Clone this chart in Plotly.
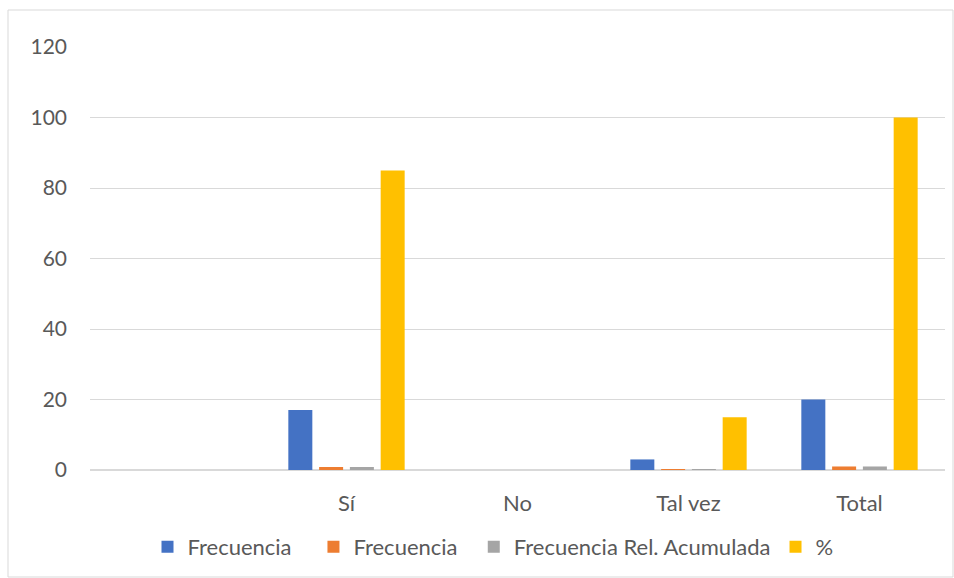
import plotly.graph_objects as go

categories = [" ", "Sí", "No", "Tal vez", "Total"]
frecuencia = [None, 17, 0, 3, 20]
frecuencia_rel = [None, 0.85, 0, 0.15, 1]
frecuencia_rel_acum = [None, 0.85, 0, 0.15, 1]
porcentaje = [None, 85, 0, 15, 100]

PAD = "\u00a0\u00a0"
series = [
    ("Frecuencia" + PAD + "\u00a0", frecuencia, "#4472C4"),
    ("Frecuencia" + PAD, frecuencia_rel, "#ED7D31"),
    ("Frecuencia Rel. Acumulada", frecuencia_rel_acum, "#A5A5A5"),
    ("%", porcentaje, "#FFC000"),
]

FONT = "Lato, 'Open Sans', sans-serif"

fig = go.Figure()
for name, vals, col in series:
    fig.add_trace(go.Bar(x=categories, y=vals, name=name, marker_color=col,
                         marker_line_width=0))

W, H = 954, 578
L, R, T, B = 90, 9, 47, 108
pw, ph = W - L - R, H - T - B

fig.update_layout(
    width=W, height=H,
    margin=dict(l=L, r=R, t=T, b=B),
    paper_bgcolor="white", plot_bgcolor="white",
    barmode="group", bargap=0.28, bargroupgap=0.22,
    font=dict(family=FONT, size=21, color="#595959"),
    showlegend=True,
    legend=dict(orientation="h", x=(493 - L) / pw, xanchor="center",
                y=(470 - 547) / ph, yanchor="middle",
                font=dict(size=22, color="#595959"),
                itemwidth=30, traceorder="normal"),
    xaxis=dict(type="category", showgrid=False, ticks="", showline=True,
               linecolor="#d9d9d9", linewidth=1, ticklabelstandoff=14,
               tickfont=dict(size=22, color="#595959")),
    yaxis=dict(range=[0, 120], dtick=20, showgrid=True, gridcolor="#d9d9d9",
               gridwidth=1, zeroline=True, zerolinecolor="#d9d9d9", ticks="",
               showline=False, ticklabelstandoff=22,
               tickfont=dict(size=21, color="#595959")),
    shapes=[dict(type="rect", xref="paper", yref="paper",
                 x0=(8 - L) / pw, x1=(953 - L) / pw,
                 y0=(H - B - 577) / ph, y1=(H - B - 10) / ph,
                 line=dict(color="#d9d9d9", width=1), fillcolor="rgba(0,0,0,0)",
                 layer="below")],
)

fig.write_html("out.html")
